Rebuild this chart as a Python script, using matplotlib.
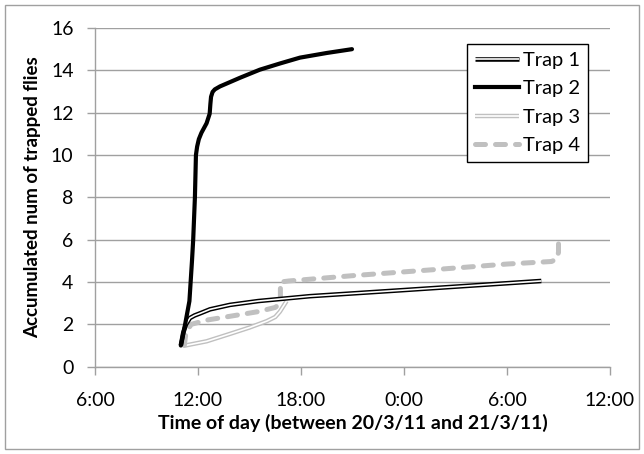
import matplotlib
matplotlib.use("Agg")
import matplotlib.pyplot as plt
from matplotlib.lines import Line2D
from matplotlib.legend_handler import HandlerTuple
from matplotlib.patches import Rectangle

plt.rcParams['font.family'] = ['Lato', 'DejaVu Sans']

# Hours since midnight of 20/3/11 (24 = 0:00 on 21/3/11)
trap1_t = [11.0, 11.14, 11.3, 11.53, 11.8, 12.12, 12.7, 13.86, 15.5, 18.5, 24.0, 32.0]
trap1_n = [1.0, 1.6, 2.0, 2.3, 2.42, 2.52, 2.71, 2.92, 3.1, 3.33, 3.62, 4.05]

trap2_t = [11.0, 11.25, 11.5, 11.65, 11.72, 11.82, 11.88, 11.95, 12.05, 12.2, 12.5, 12.68,
           12.72, 12.76, 12.85, 12.98, 13.28, 14.45, 15.6, 16.8, 17.94, 19.5, 20.97]
trap2_n = [1.0, 2.0, 3.1, 5.0, 6.0, 8.0, 10.0, 10.4, 10.75, 11.05, 11.5, 11.95,
           12.4, 12.75, 12.98, 13.1, 13.24, 13.65, 14.03, 14.33, 14.6, 14.82, 15.0]

trap3_t = [11.25, 12.5, 13.86, 15.0, 16.0, 16.5, 16.77, 17.16]
trap3_n = [1.0, 1.2, 1.55, 1.85, 2.15, 2.35, 2.6, 3.1]

trap4_t = [11.2, 11.3, 11.6, 12.5, 14.0, 15.5, 16.5, 16.8, 16.8, 17.3, 21.0, 26.0, 30.0,
           32.6, 32.9, 33.0, 33.0]
trap4_n = [1.0, 1.6, 2.0, 2.2, 2.4, 2.6, 2.8, 3.0, 4.0, 4.05, 4.3, 4.6, 4.85,
           4.97, 5.1, 5.4, 5.8]

x_ticks = [6, 12, 18, 24, 30, 36]
x_ticklabels = ['6:00', '12:00', '18:00', '0:00', '6:00', '12:00']
y_ticks = [0, 2, 4, 6, 8, 10, 12, 14, 16]
series_names = ['Trap 1', 'Trap 2', 'Trap 3', 'Trap 4']

fig = plt.figure(figsize=(6.44, 4.54), dpi=100)
ax = fig.add_axes([95/644, 1-366.7/454, (610-95)/644, (366.7-28)/454])

grid_c = '#a0a0a0'
light = '#c0c0c0'

# Trap 3 (light gray double line)
ax.plot(trap3_t, trap3_n, color=light, lw=3.2, solid_capstyle='butt', zorder=3)
ax.plot(trap3_t, trap3_n, color='white', lw=1.2, solid_capstyle='butt', zorder=3.1)
# Trap 4 (gray dashed)
ax.plot(trap4_t, trap4_n, color=light, lw=3.6, linestyle=(0, (2.0, 2.0)),
        dash_capstyle='round', zorder=3.2)
# Trap 1 (black double line)
ax.plot(trap1_t, trap1_n, color='black', lw=3.3, solid_capstyle='butt', zorder=3.3)
ax.plot(trap1_t, trap1_n, color='white', lw=1.2, solid_capstyle='butt', zorder=3.4)
# Trap 2 (thick black)
ax.plot(trap2_t, trap2_n, color='black', lw=3.0, solid_capstyle='round',
        solid_joinstyle='round', zorder=3.5)

ax.set_xlim(6, 36)
ax.set_ylim(0, 16)
ax.set_xticks(x_ticks)
ax.set_xticklabels(x_ticklabels)
ax.set_yticks(y_ticks)
ax.yaxis.grid(True, color=grid_c, lw=1)
ax.set_axisbelow(True)
for s in ['top', 'right']:
    ax.spines[s].set_visible(False)
for s in ['left', 'bottom']:
    ax.spines[s].set_color(grid_c)
    ax.spines[s].set_linewidth(1)
ax.tick_params(axis='both', colors=grid_c, length=5.5, width=1, labelcolor='black',
               labelsize=14, direction='out')
ax.tick_params(axis='y', pad=10)
ax.tick_params(axis='x', pad=13)

ax.set_xlabel('Time of day (between 20/3/11 and 21/3/11)', fontsize=14, fontweight='bold', labelpad=3)
ax.set_ylabel('Accumulated num of trapped flies', fontsize=13.5, fontweight='bold', labelpad=7)

h1 = (Line2D([], [], color='black', lw=3.3, solid_capstyle='butt'),
      Line2D([], [], color='white', lw=1.2, solid_capstyle='butt'))
h2 = Line2D([], [], color='black', lw=3.0)
h3 = (Line2D([], [], color=light, lw=3.2, solid_capstyle='butt'),
      Line2D([], [], color='white', lw=1.2, solid_capstyle='butt'))
h4 = Line2D([], [], color=light, lw=3.6, linestyle=(0, (2.0, 2.0)), dash_capstyle='round')
leg = fig.legend([h1, h2, h3, h4], series_names,
                 handler_map={tuple: HandlerTuple(ndivide=1)},
                 loc='upper left', bbox_to_anchor=(467/644, 1-44/454),
                 bbox_transform=fig.transFigure, fontsize=14.5, fancybox=False,
                 framealpha=1, edgecolor='black', handlelength=2.2, handletextpad=0.2,
                 labelspacing=0.57, borderpad=0.38, borderaxespad=0)
leg.get_frame().set_linewidth(1)

fig.patches.append(Rectangle((5/644, 5/454), 634/644, 444/454, transform=fig.transFigure,
                             fill=False, edgecolor='#a0a0a0', lw=1))

fig.savefig('out.png', dpi=100)
